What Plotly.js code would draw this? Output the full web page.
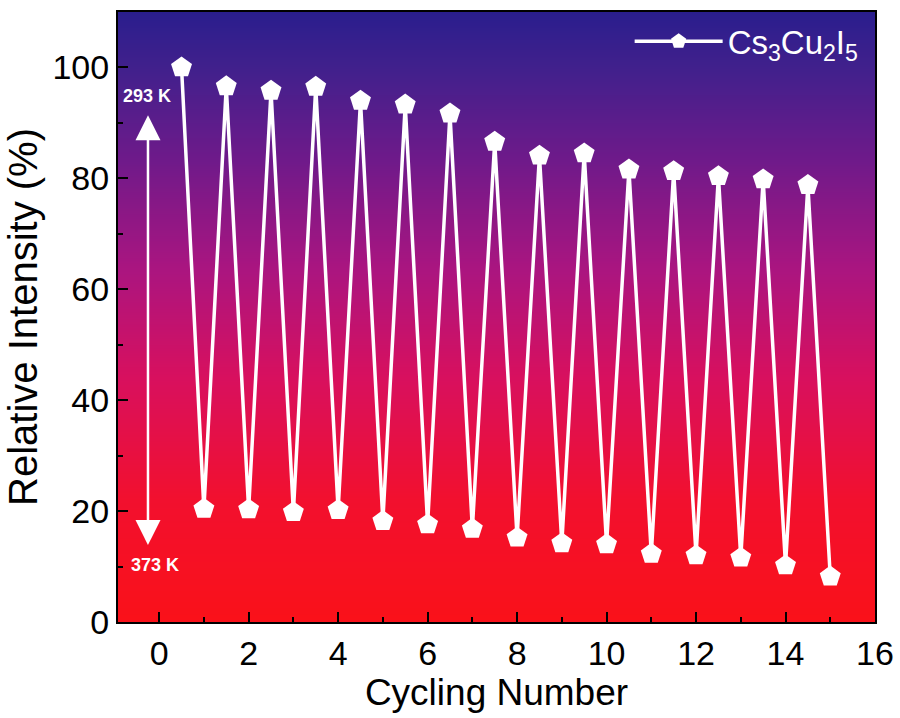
<!DOCTYPE html>
<html>
<head>
<meta charset="utf-8">
<script src="https://cdn.plot.ly/plotly-3.0.1.min.js"></script>
<style>html,body{margin:0;padding:0;background:#fff;}#chart{width:900px;height:718px;}</style>
</head>
<body>
<div id="chart"></div>
<script>
// Data
const cycleX = [0.5, 1, 1.5, 2, 2.5, 3, 3.5, 4, 4.5, 5, 5.5, 6, 6.5, 7, 7.5, 8, 8.5, 9, 9.5, 10, 10.5, 11, 11.5, 12, 12.5, 13, 13.5, 14, 14.5, 15];
const intensity = [100, 20.4, 96.6, 20.3, 95.8, 19.8, 96.5, 20.2, 94.0, 18.2, 93.3, 17.6, 91.7, 16.8, 86.6, 15.2, 84.1, 14.2, 84.5, 14.0, 81.6, 12.3, 81.3, 12.0, 80.4, 11.6, 79.8, 10.2, 78.8, 8.2];
const seriesName = 'Cs<sub>3</sub>Cu<sub>2</sub>I<sub>5</sub>';
const xTicks = [0, 2, 4, 6, 8, 10, 12, 14, 16];
const yTicks = [0, 20, 40, 60, 80, 100];
const xRange = [-0.92, 16];
const yRange = [0, 110];
const arrowTop = 91.4, arrowBottom = 13.6, arrowX = -0.25;
const labelHot = '373 K', labelCold = '293 K';

// gradient background (heatmap)
const bgY = [0, 10, 25, 40, 55, 70, 85, 100, 110];
const bgZ = bgY.map(v => [v, v]);

const font = 'Liberation Sans, Arial, sans-serif';

const traces = [
  {
    type: 'heatmap',
    x: xRange,
    y: bgY,
    z: bgZ,
    zsmooth: 'best',
    zmin: 0, zmax: 110,
    colorscale: [
      [0, '#fa1119'],
      [0.2, '#f2102e'],
      [0.4, '#d8105e'],
      [0.58, '#aa1580'],
      [0.76, '#6e1a8a'],
      [0.9, '#43208c'],
      [1, '#2a1e8d']
    ],
    showscale: false,
    hoverinfo: 'skip',
    showlegend: false
  },
  {
    type: 'scatter',
    mode: 'lines+markers',
    x: cycleX,
    y: intensity,
    name: seriesName,
    line: {color: '#ffffff', width: 3.5},
    marker: {symbol: 'pentagon', size: 22, color: '#ffffff', line: {width: 0}}
  }
];

const layout = {
  width: 900, height: 718,
  margin: {l: 118, r: 25, t: 12, b: 96},
  paper_bgcolor: '#ffffff',
  plot_bgcolor: '#ffffff',
  font: {family: font, color: '#000'},
  showlegend: true,
  legend: {
    x: 0.985, y: 0.998, xanchor: 'right', yanchor: 'top',
    bgcolor: 'rgba(0,0,0,0)',
    font: {family: font, size: 33, color: '#ffffff'},
    itemwidth: 88
  },
  xaxis: {
    range: xRange,
    tickvals: xTicks,
    ticktext: xTicks.map(String),
    ticks: 'inside', ticklen: 10, tickwidth: 2, tickcolor: '#000',
    minor: {dtick: 1, tick0: 0, ticks: 'inside', ticklen: 5, tickwidth: 2, tickcolor: '#000'},
    showline: true, linecolor: '#000', linewidth: 2, mirror: true,
    showgrid: false, zeroline: false,
    tickfont: {family: font, size: 34, color: '#000'},
    title: {text: 'Cycling Number', font: {family: font, size: 37, color: '#000'}, standoff: 0}
  },
  yaxis: {
    range: yRange,
    tickvals: yTicks,
    ticktext: yTicks.map(String),
    ticks: 'inside', ticklen: 10, tickwidth: 2, tickcolor: '#000',
    minor: {dtick: 10, tick0: 0, ticks: 'inside', ticklen: 5, tickwidth: 2, tickcolor: '#000'},
    showline: true, linecolor: '#000', linewidth: 2, mirror: true,
    showgrid: false, zeroline: false,
    tickfont: {family: font, size: 34, color: '#000'},
    title: {text: 'Relative Intensity (%)', font: {family: font, size: 40, color: '#000'}, standoff: 2}
  },
  annotations: [
    {
      x: arrowX, y: arrowTop, ax: arrowX, ay: arrowBottom,
      xref: 'x', yref: 'y', axref: 'x', ayref: 'y',
      text: '', showarrow: true, arrowhead: 2, arrowside: 'end+start',
      arrowsize: 2, arrowwidth: 2.5, arrowcolor: '#ffffff'
    },
    {
      x: -0.28, y: 94.8, xref: 'x', yref: 'y', text: '<b>' + labelCold + '</b>',
      showarrow: false, font: {family: font, size: 18, color: '#ffffff'}, xanchor: 'center', yanchor: 'middle'
    },
    {
      x: -0.1, y: 10.2, xref: 'x', yref: 'y', text: '<b>' + labelHot + '</b>',
      showarrow: false, font: {family: font, size: 18, color: '#ffffff'}, xanchor: 'center', yanchor: 'middle'
    }
  ]
};

Plotly.newPlot('chart', traces, layout, {displayModeBar: false, staticPlot: true});
</script>
</body>
</html>
